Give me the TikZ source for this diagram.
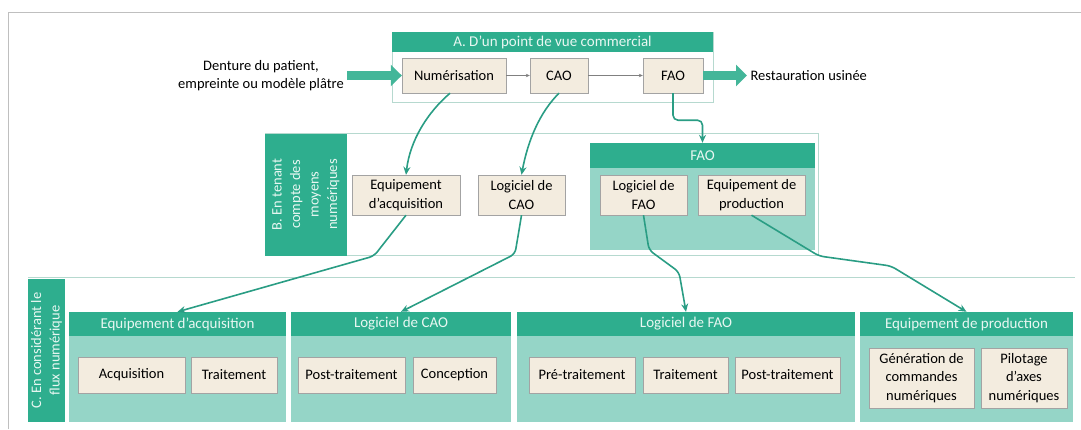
\documentclass[tikz,border=0pt]{standalone}
\usepackage{fontspec}
\setmainfont{Carlito}
\usetikzlibrary{arrows.meta}

\definecolor{tealdark}{HTML}{2EAE8E}
\definecolor{teallight}{HTML}{95D5C7}
\definecolor{flowline}{HTML}{2A9D84}
\definecolor{boxfill}{HTML}{F3ECDF}
\definecolor{boxline}{HTML}{A3A3A3}
\definecolor{hdrtext}{HTML}{E8F7F2}
\definecolor{frameline}{HTML}{B6D9CF}
\definecolor{outerline}{HTML}{BFBFBF}

\newcommand{\boxfont}{\fontsize{14.5}{18.5}\selectfont}
\newcommand{\hdrfont}{\fontsize{15}{18}\selectfont}

\begin{document}
\begin{tikzpicture}[x=1pt, y=-1pt,
  box/.style={draw=boxline, fill=boxfill, align=center, inner sep=2pt, font=\boxfont},
  hdr/.style={fill=tealdark, text=hdrtext, inner sep=0pt, font=\hdrfont},
  body/.style={fill=teallight, inner sep=0pt},
  band/.style={fill=tealdark, text=hdrtext, align=center, inner sep=0pt, rotate=90, font=\boxfont},
  frame/.style={draw=frameline, line width=0.8pt, inner sep=0pt},
  flow/.style={draw=flowline, line width=1.6pt, rounded corners=5pt, -{Stealth[length=8pt,width=7pt]}},
  thinflow/.style={draw=gray, line width=0.6pt, -{Stealth[length=4pt,width=3.5pt]}},
  bigarrow/.style={draw=tealdark!90, line width=9pt, -{Triangle[length=11pt,width=21pt]}}
]
\useasboundingbox (0,0) rectangle (1081,429);
\draw[outerline, line width=0.8pt] (8,429) -- (8,12) -- (1081,12);

% A. point de vue commercial
\node[frame, fill=white, minimum width=321pt, minimum height=70pt] (aframe) at (552.5,67) {};
\node[hdr, minimum width=321pt, minimum height=20pt] (ahdr) at (552.5,42) {A. D'un point de vue commercial};
\node[box, minimum width=104pt, minimum height=35pt] (numer) at (454,75.5) {Numérisation};
\node[box, minimum width=58pt, minimum height=35pt] (caoA) at (559,75.5) {CAO};
\node[box, minimum width=60pt, minimum height=35pt] (faoA) at (673,75.5) {FAO};
\node[align=center, font=\boxfont] (intxt) at (261,75.5) {Denture du patient,\\empreinte ou modèle plâtre};
\node[anchor=west, font=\boxfont] (outtxt) at (747,75.5) {Restauration usinée};

\draw[thinflow] (numer) -- (caoA);
\draw[thinflow] (caoA) -- (faoA);
\draw[bigarrow] (intxt) -- (numer);
\draw[bigarrow] (faoA) -- (outtxt);

% B. moyens numeriques
\node[frame, minimum width=553pt, minimum height=122pt] (bframe) at (541.5,194) {};
\node[band, minimum width=122pt, minimum height=82pt] (bband) at (306,194.5) {B. En tenant\\compte des\\moyens\\numériques};
\node[box, minimum width=108pt, minimum height=40pt] (eqacqB) at (406,195) {Equipement\\d'acquisition};
\node[box, minimum width=87pt, minimum height=40pt] (logcaoB) at (521.5,195) {Logiciel de\\CAO};
\node[body, minimum width=225pt, minimum height=82pt] (faobody) at (702.5,209) {};
\node[hdr, minimum width=225pt, minimum height=25pt] (faohdr) at (702.5,155.5) {FAO};
\node[box, minimum width=87pt, minimum height=40pt] (logfaoB) at (643.5,195) {Logiciel de\\FAO};
\node[box, minimum width=107pt, minimum height=40pt] (eqprodB) at (751.5,195) {Equipement de\\production};

% C. flux numerique
\draw[frameline, line width=0.8pt] (28,277) -- (1075,277);
\node[band, minimum width=143pt, minimum height=37pt] (cband) at (46.5,350.5) {C. En considérant le\\flux numérique};

\node[body, minimum width=217pt, minimum height=86pt] (g1body) at (177.5,379) {};
\node[hdr, minimum width=217pt, minimum height=24pt] (g1hdr) at (177.5,324) {Equipement d'acquisition};
\node[body, minimum width=220pt, minimum height=86pt] (g2body) at (401,379) {};
\node[hdr, minimum width=220pt, minimum height=24pt] (g2hdr) at (401,324) {Logiciel de CAO};
\node[body, minimum width=338pt, minimum height=86pt] (g3body) at (686,379) {};
\node[hdr, minimum width=338pt, minimum height=24pt] (g3hdr) at (686,324) {Logiciel de FAO};
\node[body, minimum width=213pt, minimum height=86pt] (g4body) at (966.5,379) {};
\node[hdr, minimum width=213pt, minimum height=24pt] (g4hdr) at (966.5,324) {Equipement de production};

\node[box, minimum width=107pt, minimum height=36pt] (acq) at (131.5,375) {Acquisition};
\node[box, minimum width=86pt, minimum height=36pt] (trtA) at (234,375) {Traitement};
\node[box, minimum width=107pt, minimum height=36pt] (postA) at (351.5,375) {Post-traitement};
\node[box, minimum width=83pt, minimum height=36pt] (conc) at (454.5,375) {Conception};
\node[box, minimum width=106pt, minimum height=36pt] (pre) at (582,375) {Pré-traitement};
\node[box, minimum width=85pt, minimum height=36pt] (trtB) at (685.5,375) {Traitement};
\node[box, minimum width=105pt, minimum height=36pt] (postB) at (787.5,375) {Post-traitement};
\node[box, minimum width=105pt, minimum height=60pt] (gen) at (921.5,378) {Génération de\\commandes\\numériques};
\node[box, minimum width=86pt, minimum height=60pt] (pilot) at (1024,378) {Pilotage\\d'axes\\numériques};

% liens entre niveaux
\draw[flow] ([xshift=-4pt]numer.south) .. controls (428,112) and (410,140) .. (eqacqB.north);
\draw[flow] (caoA.south) .. controls (540,112) and (528,140) .. (logcaoB.north);
\draw[flow] (faoA.south) -- ++(0,27) -| (faohdr.north);
\draw[flow] (eqacqB.south) -- (374,256) -- (g1hdr.north);
\draw[flow] (logcaoB.south) -- (515,254) -- (g2hdr.north);
\draw[flow] (logfaoB.south) -- (649,250) -- (679,272) -- (g3hdr.north);
\draw[flow] (eqprodB.south) -- (819,256) -- (891,266) -- (g4hdr.north);
\end{tikzpicture}
\end{document}
